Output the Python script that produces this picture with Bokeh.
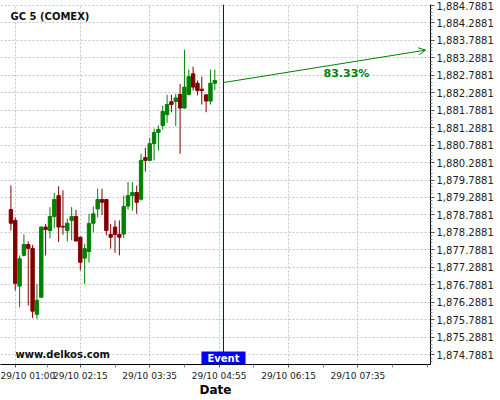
from bokeh.plotting import figure
from bokeh.models import (FixedTicker, NumeralTickFormatter, Span, Label, Arrow,
                          OpenHead, Range1d, ColumnDataSource)
from bokeh.embed import file_html
from bokeh.resources import INLINE

FONT = "DejaVu Sans"

# ---------------- data ----------------
candle_times = ["00:55", "01:00", "01:05", "01:10", "01:15", "01:20", "01:25", "01:30",
                "01:35", "01:40", "01:45", "01:50", "01:55", "02:00", "02:05", "02:10",
                "02:15", "02:20", "02:25", "02:30", "02:35", "02:40", "02:45", "02:50",
                "02:55", "03:00", "03:05", "03:10", "03:15", "03:20", "03:25", "03:30",
                "03:35", "03:40", "03:45", "03:50", "03:55", "04:00", "04:05", "04:10",
                "04:15", "04:20", "04:25", "04:30", "04:35", "04:40", "04:45", "04:50"]
opens = [1878.94, 1878.63, 1876.75, 1877.63, 1877.94, 1877.83, 1875.94, 1876.43,
         1878.44, 1878.34, 1878.74, 1879.34, 1878.46, 1878.34, 1878.63, 1878.74,
         1878.15, 1877.55, 1877.74, 1878.55, 1878.96, 1879.23, 1879.23, 1878.23,
         1878.44, 1878.23, 1878.24, 1879.04, 1879.34, 1879.43, 1879.24, 1880.43,
         1880.35, 1880.83, 1881.15, 1881.35, 1881.66, 1882.03, 1882.04, 1882.24,
         1881.85, 1882.24, 1882.83, 1882.56, 1882.39, 1882.23, 1882.05, 1882.56]
highs = [1879.63, 1878.72, 1877.63, 1878.23, 1878.03, 1877.93, 1876.81, 1878.45,
         1878.53, 1879.01, 1879.42, 1879.61, 1879.49, 1878.68, 1879.01, 1878.93,
         1878.16, 1877.96, 1878.82, 1879.03, 1879.54, 1879.54, 1879.24, 1878.53,
         1878.63, 1878.63, 1879.34, 1879.73, 1879.73, 1879.63, 1880.54, 1880.71,
         1881.00, 1881.26, 1881.35, 1881.92, 1882.23, 1882.23, 1882.26, 1882.54,
         1883.52, 1882.95, 1883.04, 1882.64, 1882.75, 1882.23, 1882.95, 1882.95]
lows = [1878.34, 1876.62, 1876.14, 1877.60, 1876.19, 1875.83, 1875.81, 1876.42,
        1877.63, 1878.12, 1878.41, 1878.01, 1878.22, 1878.03, 1878.06, 1878.03,
        1877.20, 1876.81, 1877.42, 1878.29, 1878.72, 1878.79, 1878.20, 1877.82,
        1877.70, 1877.63, 1878.13, 1878.94, 1878.91, 1878.82, 1879.20, 1880.03,
        1880.33, 1880.35, 1880.63, 1881.23, 1881.43, 1881.73, 1881.33, 1880.54,
        1881.83, 1882.21, 1882.35, 1882.21, 1881.95, 1881.73, 1881.95, 1882.37]
closes = [1878.55, 1876.83, 1877.53, 1877.94, 1877.83, 1876.03, 1876.34, 1878.44,
          1878.37, 1878.74, 1879.23, 1878.44, 1878.44, 1878.55, 1878.74, 1878.04,
          1877.43, 1877.82, 1878.54, 1878.82, 1879.23, 1879.15, 1878.34, 1878.15,
          1878.23, 1878.15, 1879.03, 1879.34, 1879.43, 1879.15, 1880.35, 1880.35,
          1880.83, 1881.15, 1881.24, 1881.75, 1881.95, 1881.95, 1882.14, 1881.85,
          1882.45, 1882.75, 1882.45, 1882.35, 1882.35, 1882.05, 1882.56, 1882.64]

price_ticks = [1874.7881, 1875.2881, 1875.7881, 1876.2881, 1876.7881, 1877.2881,
               1877.7881, 1878.2881, 1878.7881, 1879.2881, 1879.7881, 1880.2881,
               1880.7881, 1881.2881, 1881.7881, 1882.2881, 1882.7881, 1883.2881,
               1883.7881, 1884.2881, 1884.7881]
time_label_times = ["01:00", "02:15", "03:35", "04:55", "06:15", "07:35"]
time_labels = ["29/10 01:00", "29/10 02:15", "29/10 03:35", "29/10 04:55",
               "29/10 06:15", "29/10 07:35"]
time_unlabelled_ticks = ["01:37", "02:55", "04:15", "05:35", "06:55", "08:15", "08:55"]

title_text = "GC 5 (COMEX)"
watermark = "www.delkos.com"
event_text = "Event"
event_time = "05:00"
event_price = 1882.58
target_time = "08:53"
target_price = 1883.51
probability = "83.33%"

x_start, x_end = "00:43.00", "08:58.62"
y_start, y_end = 1874.502, 1884.817

GREEN = "#008000"
RED = "#800000"


def to_min(s):
    h, m = s.split(":")
    return int(h) * 60 + float(m)


t = [to_min(s) for s in candle_times]
colors = [GREEN if c >= o else RED for o, c in zip(opens, closes)]
src = ColumnDataSource(dict(
    t=t, high=highs, low=lows,
    top=[max(o, c) for o, c in zip(opens, closes)],
    bottom=[min(o, c) for o, c in zip(opens, closes)],
    color=colors))

p = figure(frame_width=430, frame_height=360,
           x_range=Range1d(to_min(x_start), to_min(x_end)),
           y_range=Range1d(y_start, y_end),
           y_axis_location="right",
           output_backend="svg", toolbar_location=None,
           min_border_left=0, min_border_top=4, min_border_right=0, min_border_bottom=0,
           background_fill_color="white", border_fill_color="white")
p.outline_line_color = None

# grids
label_ticks = [to_min(s) for s in time_label_times]
other_ticks = [to_min(s) for s in time_unlabelled_ticks]
p.xgrid.ticker = FixedTicker(ticks=label_ticks)
p.ygrid.ticker = FixedTicker(ticks=price_ticks)
for g in (p.xgrid, p.ygrid):
    g.grid_line_color = "#c4c4c4"
    g.grid_line_dash = "2 2"
    g.grid_line_width = 1

# x axis
xa = p.xaxis[0]
xa.ticker = FixedTicker(ticks=label_ticks, minor_ticks=other_ticks)
xa.major_label_overrides = {v: lab for v, lab in zip(label_ticks, time_labels)}
xa.axis_label = "Date"
xa.axis_label_text_font = FONT
xa.axis_label_text_font_style = "bold"
xa.axis_label_text_font_size = "12px"
xa.axis_label_text_color = "#000000"
xa.axis_label_standoff = -1
xa.major_tick_out = 3
xa.major_tick_in = 0
xa.minor_tick_out = 3
xa.minor_tick_in = 0
xa.major_label_standoff = 3

# y axis
ya = p.yaxis[0]
minor = []
for tk in [price_ticks[0] - 0.5] + price_ticks:
    for k in range(1, 5):
        minor.append(tk + 0.1 * k)
ya.ticker = FixedTicker(ticks=price_ticks, minor_ticks=minor)
ya.formatter = NumeralTickFormatter(format="0,0.0000")
ya.major_tick_out = 4
ya.major_tick_in = 0
ya.minor_tick_out = 2
ya.minor_tick_in = 0
ya.major_label_standoff = 2

for ax in (xa, ya):
    ax.axis_line_color = "#000000"
    ax.major_tick_line_color = "#555555"
    ax.minor_tick_line_color = "#888888"
    ax.major_label_text_font = FONT
    ax.major_label_text_color = "#222222"
ya.major_label_text_font_size = "10px"
xa.major_label_text_font_size = "9px"

# candles
p.segment(x0="t", y0="high", x1="t", y1="low", line_color="color", line_width=1, source=src)
p.vbar(x="t", width=3.9, top="top", bottom="bottom", fill_color="color",
       line_color="color", line_width=1, source=src)

# event line and arrow
p.add_layout(Span(location=to_min(event_time), dimension="height",
                  line_color="#0000cc", line_width=1))
p.add_layout(Arrow(end=OpenHead(size=7, line_color=GREEN, line_width=1),
                   x_start=to_min(event_time), y_start=event_price,
                   x_end=to_min(target_time), y_end=target_price,
                   line_color=GREEN, line_width=1))

p.add_layout(Label(x=323, y=291, x_units="screen", y_units="screen", text=probability,
                   text_font=FONT, text_font_style="bold", text_font_size="11px",
                   text_color=GREEN, text_baseline="middle"))
p.add_layout(Label(x=10, y=348.5, x_units="screen", y_units="screen", text=title_text,
                   text_font=FONT, text_font_style="bold", text_font_size="10px",
                   text_color="#111111", text_baseline="middle"))
p.add_layout(Label(x=15, y=10, x_units="screen", y_units="screen", text=watermark,
                   text_font=FONT, text_font_style="bold", text_font_size="10px",
                   text_color="#111111", text_baseline="middle"))
p.add_layout(Label(x=to_min(event_time), y=0, x_units="data", y_units="screen",
                   text=event_text, text_font=FONT, text_font_style="bold",
                   text_font_size="10px", text_color="white",
                   text_align="center", text_baseline="bottom",
                   background_fill_color="#0000ff",
                   padding=dict(left=6, right=6, top=1, bottom=1)))

open("out.html", "w").write(file_html(p, INLINE))
